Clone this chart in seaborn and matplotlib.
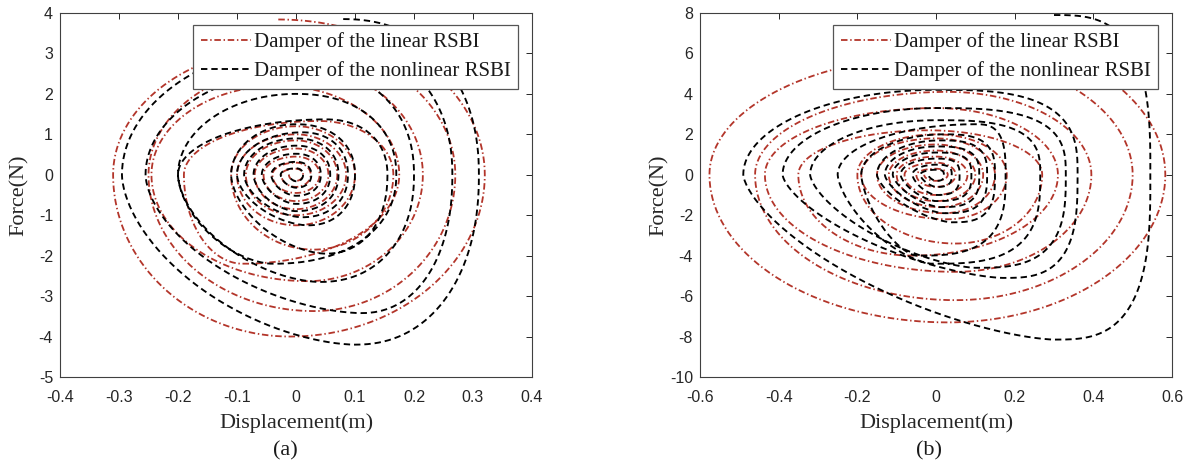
import numpy as np
import pandas as pd
import matplotlib
matplotlib.use("Agg")
import matplotlib.pyplot as plt
import seaborn as sns

# ---- Loop extremes of each force-displacement trace (outer loop first) ----
# Each loop: top force (and displacement where it occurs), right displacement,
# bottom force (and displacement where it occurs), left displacement.

# (a) linear RSBI damper
a_lin_top      = [3.84, 3.20, 2.70, 2.20, 1.33, 1.20, 1.00, 0.85, 0.65, 0.45, 0.30, 0.15]
a_lin_top_x    = [-0.03, 0.00, 0.00, -0.03, 0.04, 0.00, 0.00, 0.00, 0.00, 0.00, 0.00, 0.00]
a_lin_right    = [0.320, 0.270, 0.215, 0.175, 0.165, 0.100, 0.085, 0.070, 0.055, 0.040, 0.025, 0.012]
a_lin_bottom   = [-4.00, -3.37, -2.63, -2.20, -1.85, -1.25, -1.00, -0.85, -0.65, -0.45, -0.30, -0.15]
a_lin_bottom_x = [-0.01, 0.03, 0.02, -0.09, 0.03, 0.00, 0.00, 0.00, 0.00, 0.00, 0.00, 0.00]
a_lin_left     = [-0.310, -0.250, -0.245, -0.190, -0.110, -0.100, -0.085, -0.070, -0.055, -0.040, -0.025, -0.012]

# (a) nonlinear RSBI damper
a_non_top      = [3.85, 3.30, 2.60, 2.00, 1.37, 1.25, 1.05, 0.90, 0.72, 0.52, 0.32, 0.16]
a_non_top_x    = [0.08, 0.05, 0.02, 0.00, 0.05, 0.00, 0.01, 0.00, 0.00, 0.00, 0.00, 0.00]
a_non_right    = [0.310, 0.265, 0.200, 0.170, 0.155, 0.100, 0.088, 0.072, 0.058, 0.042, 0.026, 0.012]
a_non_bottom   = [-4.20, -3.42, -2.65, -2.20, -1.95, -1.25, -1.05, -0.90, -0.72, -0.52, -0.32, -0.16]
a_non_bottom_x = [0.10, 0.11, 0.04, -0.04, 0.05, 0.02, 0.01, 0.00, 0.00, 0.00, 0.00, 0.00]
a_non_left     = [-0.295, -0.255, -0.200, -0.200, -0.110, -0.100, -0.088, -0.072, -0.058, -0.042, -0.026, -0.012]

# (b) linear RSBI damper
b_lin_top      = [7.20, 5.90, 4.10, 3.30, 2.20, 2.00, 1.80, 1.50, 1.20, 0.90, 0.60, 0.30]
b_lin_top_x    = [0.00, 0.02, 0.03, 0.00, -0.02, 0.00, 0.00, 0.00, 0.00, 0.00, 0.00, 0.00]
b_lin_right    = [0.583, 0.500, 0.395, 0.310, 0.270, 0.180, 0.150, 0.120, 0.100, 0.080, 0.050, 0.030]
b_lin_bottom   = [-7.30, -6.20, -4.80, -4.00, -3.40, -2.20, -1.90, -1.60, -1.30, -1.00, -0.60, -0.30]
b_lin_bottom_x = [0.03, 0.05, 0.05, -0.06, 0.05, 0.03, 0.02, 0.01, 0.00, 0.00, 0.00, 0.00]
b_lin_left     = [-0.576, -0.460, -0.435, -0.350, -0.200, -0.190, -0.150, -0.120, -0.100, -0.080, -0.050, -0.030]

# (b) nonlinear RSBI damper
b_non_top      = [7.90, 4.20, 3.30, 2.70, 2.50, 2.00, 1.70, 1.40, 1.10, 0.80, 0.50, 0.25]
b_non_top_x    = [0.30, 0.00, 0.00, 0.00, 0.10, 0.02, 0.01, 0.00, 0.00, 0.00, 0.00, 0.00]
b_non_right    = [0.545, 0.360, 0.330, 0.265, 0.177, 0.150, 0.130, 0.110, 0.090, 0.060, 0.040, 0.020]
b_non_bottom   = [-8.15, -5.10, -4.60, -4.40, -4.00, -2.35, -1.90, -1.60, -1.30, -1.00, -0.60, -0.30]
b_non_bottom_x = [0.30, 0.17, 0.10, -0.01, -0.05, 0.04, 0.02, 0.01, 0.00, 0.00, 0.00, 0.00]
b_non_left     = [-0.490, -0.390, -0.320, -0.250, -0.190, -0.150, -0.130, -0.110, -0.090, -0.060, -0.040, -0.020]

x_ticks_a = [-0.4, -0.3, -0.2, -0.1, 0, 0.1, 0.2, 0.3, 0.4]
x_labels_a = ["-0.4", "-0.3", "-0.2", "-0.1", "0", "0.1", "0.2", "0.3", "0.4"]
y_ticks_a = [-5, -4, -3, -2, -1, 0, 1, 2, 3, 4]
x_ticks_b = [-0.6, -0.4, -0.2, 0, 0.2, 0.4, 0.6]
x_labels_b = ["-0.6", "-0.4", "-0.2", "0", "0.2", "0.4", "0.6"]
y_ticks_b = [-10, -8, -6, -4, -2, 0, 2, 4, 6, 8]

LIN_LABEL = "Damper of the linear RSBI"
NON_LABEL = "Damper of the nonlinear RSBI"
RED = "#b3352a"


def quarter(xc, a, b, t0, t1, p, n=40):
    """Quarter of a (super)ellipse centred at (xc, 0) from angle t0 to t1."""
    t = np.linspace(np.radians(t0), np.radians(t1), n)
    c, s = np.cos(t), np.sin(t)
    e = 2.0 / p
    return xc + a * np.sign(c) * np.abs(c) ** e, b * np.sign(s) * np.abs(s) ** e


def trace(top, top_x, right, bottom, bottom_x, left, shape=(2, 2, 2, 2)):
    xs, ys = [], []
    for k in range(len(top)):
        segs = [
            quarter(top_x[k], right[k] - top_x[k], top[k], 90, 0, shape[0]),
            quarter(bottom_x[k], right[k] - bottom_x[k], -bottom[k], 0, -90, shape[1]),
            quarter(bottom_x[k], bottom_x[k] - left[k], -bottom[k], -90, -180, shape[2]),
        ]
        if k + 1 < len(top):
            segs.append(quarter(top_x[k + 1], top_x[k + 1] - left[k], top[k + 1], 180, 90, shape[3]))
        for x, y in segs:
            xs.append(x)
            ys.append(y)
    return pd.DataFrame({"x": np.concatenate(xs), "F": np.concatenate(ys)})


sns.set_theme(style="white")
plt.rcParams["font.family"] = ["Liberation Sans", "DejaVu Sans"]

fig = plt.figure(figsize=(11.92, 4.68), dpi=100)
ax_a = fig.add_axes([60 / 1192, 91 / 468, 472 / 1192, 364 / 468])
ax_b = fig.add_axes([700 / 1192, 91 / 468, 472 / 1192, 364 / 468])

lin_style = dict(color=RED, lw=1.3, linestyle=(0, (3.6, 1.5, 0.8, 1.5)))
non_style = dict(color="black", lw=1.35, linestyle=(0, (3.4, 2.1)))

panels = [
    (ax_a,
     trace(a_lin_top, a_lin_top_x, a_lin_right, a_lin_bottom, a_lin_bottom_x, a_lin_left),
     trace(a_non_top, a_non_top_x, a_non_right, a_non_bottom, a_non_bottom_x, a_non_left,
           shape=(2.2, 2.2, 1.7, 2.0)),
     x_ticks_a, x_labels_a, y_ticks_a, (-0.4, 0.4), (-5, 4), "(a)", 0.477),
    (ax_b,
     trace(b_lin_top, b_lin_top_x, b_lin_right, b_lin_bottom, b_lin_bottom_x, b_lin_left),
     trace(b_non_top, b_non_top_x, b_non_right, b_non_bottom, b_non_bottom_x, b_non_left,
           shape=(3.0, 3.0, 1.5, 2.0)),
     x_ticks_b, x_labels_b, y_ticks_b, (-0.6, 0.6), (-10, 8), "(b)", 0.485),
]

serif = ["Liberation Serif", "DejaVu Serif"]
ink = "#262626"

for ax, lin, non, xt, xl, yt, xlim, ylim, tag, tag_x in panels:
    sns.lineplot(data=lin, x="x", y="F", sort=False, estimator=None, ax=ax,
                 label=LIN_LABEL, **lin_style)
    sns.lineplot(data=non, x="x", y="F", sort=False, estimator=None, ax=ax,
                 label=NON_LABEL, **non_style)
    ax.set_xlim(*xlim)
    ax.set_ylim(*ylim)
    ax.set_xticks(xt)
    ax.set_xticklabels(xl)
    ax.set_yticks(yt)
    ax.set_yticklabels([str(v) for v in yt])
    ax.tick_params(direction="in", length=4, width=0.7, top=True, right=True,
                   labelsize=11.5, colors=ink)
    ax.tick_params(axis="x", pad=9)
    ax.tick_params(axis="y", pad=5)
    for sp in ax.spines.values():
        sp.set_color("#404040")
        sp.set_linewidth(0.8)
    ax.set_xlabel("Displacement(m)", family=serif, fontsize=16, color=ink)
    ax.set_ylabel("Force(N)", family=serif, fontsize=16, color=ink)
    ax.xaxis.label.set_va("center")
    ax.yaxis.label.set_va("center")
    ax.xaxis.set_label_coords(0.5, -0.128)
    ax.yaxis.set_label_coords(-0.086, 0.5)
    leg = ax.legend(loc="upper right", bbox_to_anchor=(0.970, 0.967), borderaxespad=0,
                    prop={"family": serif, "size": 15}, frameon=True, fancybox=False,
                    framealpha=1, edgecolor="#555555", handlelength=2.4, handletextpad=0.15,
                    labelspacing=0.45, borderpad=0.35)
    leg.get_frame().set_linewidth(0.9)
    for t in leg.get_texts():
        t.set_color("#1a1a1a")
    ax.text(tag_x, -0.203, tag, transform=ax.transAxes, ha="center", va="center",
            family=serif, fontsize=16, color="#1a1a1a")

fig.savefig("out.png", dpi=100, facecolor="white")
